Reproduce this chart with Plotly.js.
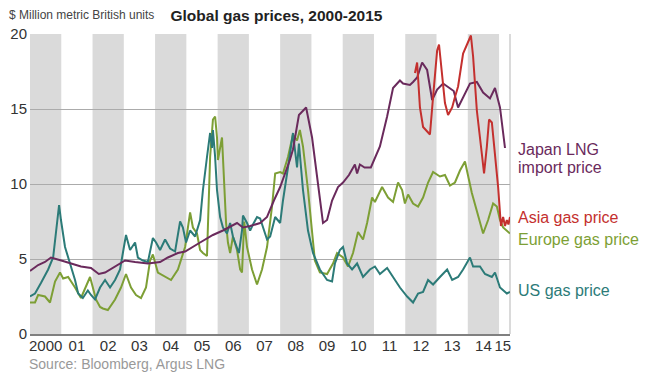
<!DOCTYPE html>
<html>
<head>
<meta charset="utf-8">
<script src="https://cdn.plot.ly/plotly-3.0.1.min.js"></script>
<style>html,body{margin:0;padding:0;background:#fff;}#chart{width:646px;height:378px;}</style>
</head>
<body>
<div id="chart"></div>
<script>
// Japan LNG import price
const japanX = [2000.00,2000.26,2000.48,2000.67,2001.00,2001.30,2001.63,2001.95,2002.20,2002.40,2002.72,2003.04,2003.36,2003.77,2004.16,2004.41,2004.73,2004.96,2005.44,2005.85,2006.17,2006.62,2006.81,2007.04,2007.36,2007.58,2007.80,2008.00,2008.31,2008.41,2008.60,2008.83,2009.02,2009.20,2009.37,2009.50,2009.66,2009.85,2010.01,2010.20,2010.39,2010.46,2010.55,2010.70,2010.90,2011.19,2011.42,2011.61,2011.83,2011.93,2012.15,2012.25,2012.38,2012.54,2012.70,2012.86,2013.02,2013.21,2013.43,2013.55,2013.69,2013.85,2014.07,2014.29,2014.49,2014.71,2014.87,2015.03,2015.19];
const japanY = [4.2,4.6,4.8,5.1,4.9,4.7,4.5,4.4,4.0,4.1,4.5,4.9,4.8,4.7,4.8,5.1,5.4,5.5,6.1,6.6,6.9,7.4,7.1,7.2,7.4,7.8,8.9,9.8,11.6,12.3,14.6,15.1,13.1,10.0,7.4,7.6,8.9,9.8,10.1,10.6,11.3,10.7,11.3,11.1,11.1,12.5,14.5,16.4,16.9,16.7,16.6,16.8,17.1,18.1,17.6,15.6,16.3,16.7,16.4,16.2,15.1,15.8,16.7,16.8,16.1,15.7,16.4,15.1,12.4];

// Asia gas price
const asiaX = [2012.31,2012.38,2012.41,2012.47,2012.57,2012.73,2012.79,2012.89,2013.02,2013.08,2013.17,2013.27,2013.37,2013.50,2013.59,2013.69,2013.85,2014.01,2014.10,2014.17,2014.29,2014.45,2014.52,2014.61,2014.68,2014.77,2014.87,2014.97,2015.06,2015.13,2015.19,2015.25,2015.30,2015.35];
const asiaY = [17.4,18.1,17.1,15.1,13.8,13.4,13.3,15.8,18.9,19.3,17.6,15.4,14.6,15.1,15.8,16.5,18.7,19.4,19.9,18.5,14.9,12.0,10.7,12.5,14.3,14.1,12.0,9.8,7.2,7.8,7.2,7.6,7.3,7.8];

// Europe gas price
const europeX = [2000.00,2000.16,2000.26,2000.48,2000.64,2000.80,2000.96,2001.06,2001.22,2001.44,2001.63,2001.92,2002.01,2002.11,2002.24,2002.33,2002.49,2002.72,2002.91,2003.07,2003.23,2003.39,2003.55,2003.71,2003.84,2003.93,2004.09,2004.32,2004.51,2004.73,2004.83,2004.96,2005.12,2005.21,2005.34,2005.44,2005.53,2005.66,2005.76,2005.85,2005.92,2005.98,2006.01,2006.14,2006.27,2006.33,2006.40,2006.49,2006.62,2006.72,2006.78,2006.85,2006.94,2007.10,2007.26,2007.42,2007.58,2007.74,2007.84,2008.00,2008.09,2008.25,2008.41,2008.54,2008.63,2008.73,2008.89,2009.02,2009.11,2009.27,2009.50,2009.69,2009.82,2010.01,2010.17,2010.33,2010.49,2010.65,2010.78,2010.94,2011.03,2011.26,2011.35,2011.45,2011.61,2011.77,2011.90,2011.99,2012.09,2012.25,2012.41,2012.57,2012.73,2012.89,2013.11,2013.27,2013.43,2013.59,2013.75,2013.91,2014.13,2014.33,2014.49,2014.65,2014.81,2014.93,2015.03,2015.13,2015.35];
const europeY = [2.1,2.1,2.6,2.5,2.1,3.5,4.1,3.7,3.8,3.1,2.4,3.8,3.1,2.3,1.8,1.7,1.6,2.3,3.1,4.0,3.1,2.6,2.4,3.1,4.9,5.3,4.1,3.8,3.6,4.3,4.9,5.8,8.1,7.1,6.7,5.6,5.4,5.2,11.8,14.3,14.5,13.1,11.6,13.1,7.4,6.1,5.4,6.5,5.6,4.3,4.1,7.5,5.8,4.3,3.3,4.3,5.8,8.5,10.7,10.8,10.7,11.8,13.3,12.9,13.6,12.5,9.6,6.9,4.9,4.1,4.0,4.7,5.4,5.1,4.5,5.4,6.8,6.3,7.4,9.1,8.8,9.8,9.5,9.1,8.8,10.1,9.6,8.7,9.3,8.7,8.5,9.1,10.1,10.8,10.5,10.6,9.9,10.1,10.9,11.5,9.4,7.8,6.7,7.6,8.7,8.5,7.6,7.1,6.7];

// US gas price
const usX = [2000.00,2000.16,2000.35,2000.58,2000.74,2000.83,2000.93,2000.99,2001.12,2001.28,2001.44,2001.54,2001.69,2001.85,2001.95,2002.08,2002.24,2002.40,2002.56,2002.72,2002.88,2002.97,2003.07,2003.20,2003.36,2003.45,2003.61,2003.77,2003.93,2004.03,2004.16,2004.32,2004.48,2004.64,2004.80,2004.89,2004.99,2005.12,2005.28,2005.44,2005.53,2005.66,2005.76,2005.82,2005.85,2005.92,2005.98,2006.08,2006.17,2006.30,2006.40,2006.49,2006.62,2006.68,2006.78,2006.81,2006.94,2007.04,2007.13,2007.26,2007.36,2007.45,2007.58,2007.68,2007.84,2008.00,2008.09,2008.25,2008.41,2008.54,2008.60,2008.73,2008.89,2009.05,2009.27,2009.50,2009.66,2009.75,2009.91,2010.01,2010.14,2010.30,2010.46,2010.65,2010.87,2011.03,2011.19,2011.42,2011.61,2011.83,2012.06,2012.25,2012.41,2012.57,2012.73,2012.89,2013.11,2013.34,2013.50,2013.69,2013.85,2014.07,2014.17,2014.39,2014.55,2014.77,2014.87,2015.03,2015.25,2015.35];
const usY = [2.5,2.7,3.4,4.3,5.1,6.9,8.6,7.6,5.8,4.7,3.6,2.7,2.4,2.9,2.6,2.3,3.1,3.6,3.1,3.6,4.3,5.4,6.6,5.6,6.1,5.1,4.9,4.8,6.4,6.1,5.6,6.3,5.7,5.5,7.5,7.1,6.1,6.9,6.5,7.6,9.6,11.8,13.4,12.4,13.6,11.8,9.6,7.8,7.1,6.7,7.4,6.5,5.8,5.4,6.9,7.9,7.4,6.9,7.3,7.8,7.7,7.1,6.3,6.5,7.8,7.4,8.9,11.1,13.4,11.1,12.7,9.6,6.9,5.4,4.3,3.6,3.5,4.7,5.6,5.8,4.7,4.3,4.7,3.8,4.3,4.5,4.0,4.4,3.8,3.1,2.5,2.1,2.7,2.8,3.6,3.3,3.8,4.3,3.6,3.8,4.3,5.1,4.5,4.5,4.0,3.8,4.1,3.1,2.7,2.8];

const seriesNames = ['Japan LNG import price','Asia gas price','Europe gas price','US gas price'];
const tickVals = [2000.5,2001.5,2002.5,2003.5,2004.5,2005.5,2006.5,2007.5,2008.5,2009.5,2010.5,2011.5,2012.5,2013.5,2014.5,2015.12];
const tickText = ['2000','01','02','03','04','05','06','07','08','09','10','11','12','13','14','15'];
const bandYears = [2000,2002,2004,2006,2008,2010,2012,2014];

const C_JP = '#6a2a5c', C_AS = '#c4302e', C_EU = '#7d9f35', C_US = '#2c7b78';
const FONT = 'Arial, "Liberation Sans", Helvetica, sans-serif';

function tr(x, y, name, color) {
  return {x: x, y: y, name: name, type: 'scatter', mode: 'lines',
    line: {color: color, width: 2}, hoverinfo: 'skip'};
}
const data = [
  tr(europeX, europeY, seriesNames[2], C_EU),
  tr(usX, usY, seriesNames[3], C_US),
  tr(japanX, japanY, seriesNames[0], C_JP),
  tr(asiaX, asiaY, seriesNames[1], C_AS)
];

const shapes = bandYears.map(function (y0) {
  return {type: 'rect', xref: 'x', yref: 'paper', x0: y0, x1: y0 + 1, y0: 0, y1: 1,
    fillcolor: '#dadada', line: {width: 0}, layer: 'below'};
});
shapes.push({type: 'line', xref: 'paper', yref: 'paper', x0: 1, x1: 1, y0: 0, y1: 1,
  line: {color: '#b5b5b5', width: 1}, layer: 'below'});

const annotations = [
  {text: '$ Million metric British units', xref: 'paper', yref: 'paper', x: -0.048, y: 1.063,
    xanchor: 'left', yanchor: 'middle', showarrow: false, font: {family: FONT, size: 12, color: '#444'}},
  {text: 'Source: Bloomberg, Argus LNG', xref: 'paper', yref: 'paper', x: -0.006, y: -0.1,
    xanchor: 'left', yanchor: 'middle', showarrow: false, font: {family: FONT, size: 14, color: '#999'}},
  {text: 'Japan LNG', xref: 'paper', yref: 'y', x: 1.0125, y: 12.33, xanchor: 'left', yanchor: 'middle',
    showarrow: false, font: {family: FONT, size: 16, color: C_JP}},
  {text: 'import price', xref: 'paper', yref: 'y', x: 1.0125, y: 11.13, xanchor: 'left', yanchor: 'middle',
    showarrow: false, font: {family: FONT, size: 16, color: C_JP}},
  {text: 'Asia gas price', xref: 'paper', yref: 'y', x: 1.0125, y: 7.8, xanchor: 'left', yanchor: 'middle',
    showarrow: false, font: {family: FONT, size: 16, color: C_AS}},
  {text: 'Europe gas price', xref: 'paper', yref: 'y', x: 1.0125, y: 6.33, xanchor: 'left', yanchor: 'middle',
    showarrow: false, font: {family: FONT, size: 16, color: C_EU}},
  {text: 'US gas price', xref: 'paper', yref: 'y', x: 1.0125, y: 2.93, xanchor: 'left', yanchor: 'middle',
    showarrow: false, font: {family: FONT, size: 16, color: C_US}}
];

const layout = {
  width: 646, height: 378,
  margin: {l: 30, r: 136, t: 34, b: 44, pad: 0},
  paper_bgcolor: '#ffffff', plot_bgcolor: '#ffffff',
  showlegend: false,
  font: {family: FONT, color: '#333'},
  title: {text: 'Global gas prices, 2000-2015', xref: 'container', yref: 'container',
    x: 0.428, y: 0.96, xanchor: 'center', yanchor: 'middle',
    font: {family: FONT, size: 15.5, color: '#222', weight: 'bold'}},
  xaxis: {range: [2000, 2015.35], tickmode: 'array', tickvals: tickVals, ticktext: tickText,
    showgrid: false, zeroline: false, showline: true, linecolor: '#808080', linewidth: 2,
    ticks: '', ticklabelstandoff: -3, tickfont: {family: FONT, size: 15, color: '#333'}, fixedrange: true},
  yaxis: {range: [0, 20], tickmode: 'array', tickvals: [0, 5, 10, 15, 20],
    showgrid: true, gridcolor: '#ababab', gridwidth: 1, zeroline: false, showline: false,
    ticks: '', ticklabelstandoff: 2, tickfont: {family: FONT, size: 15, color: '#333'}, fixedrange: true},
  shapes: shapes,
  annotations: annotations
};

Plotly.newPlot('chart', data, layout, {staticPlot: true, displayModeBar: false});
</script>
</body>
</html>
